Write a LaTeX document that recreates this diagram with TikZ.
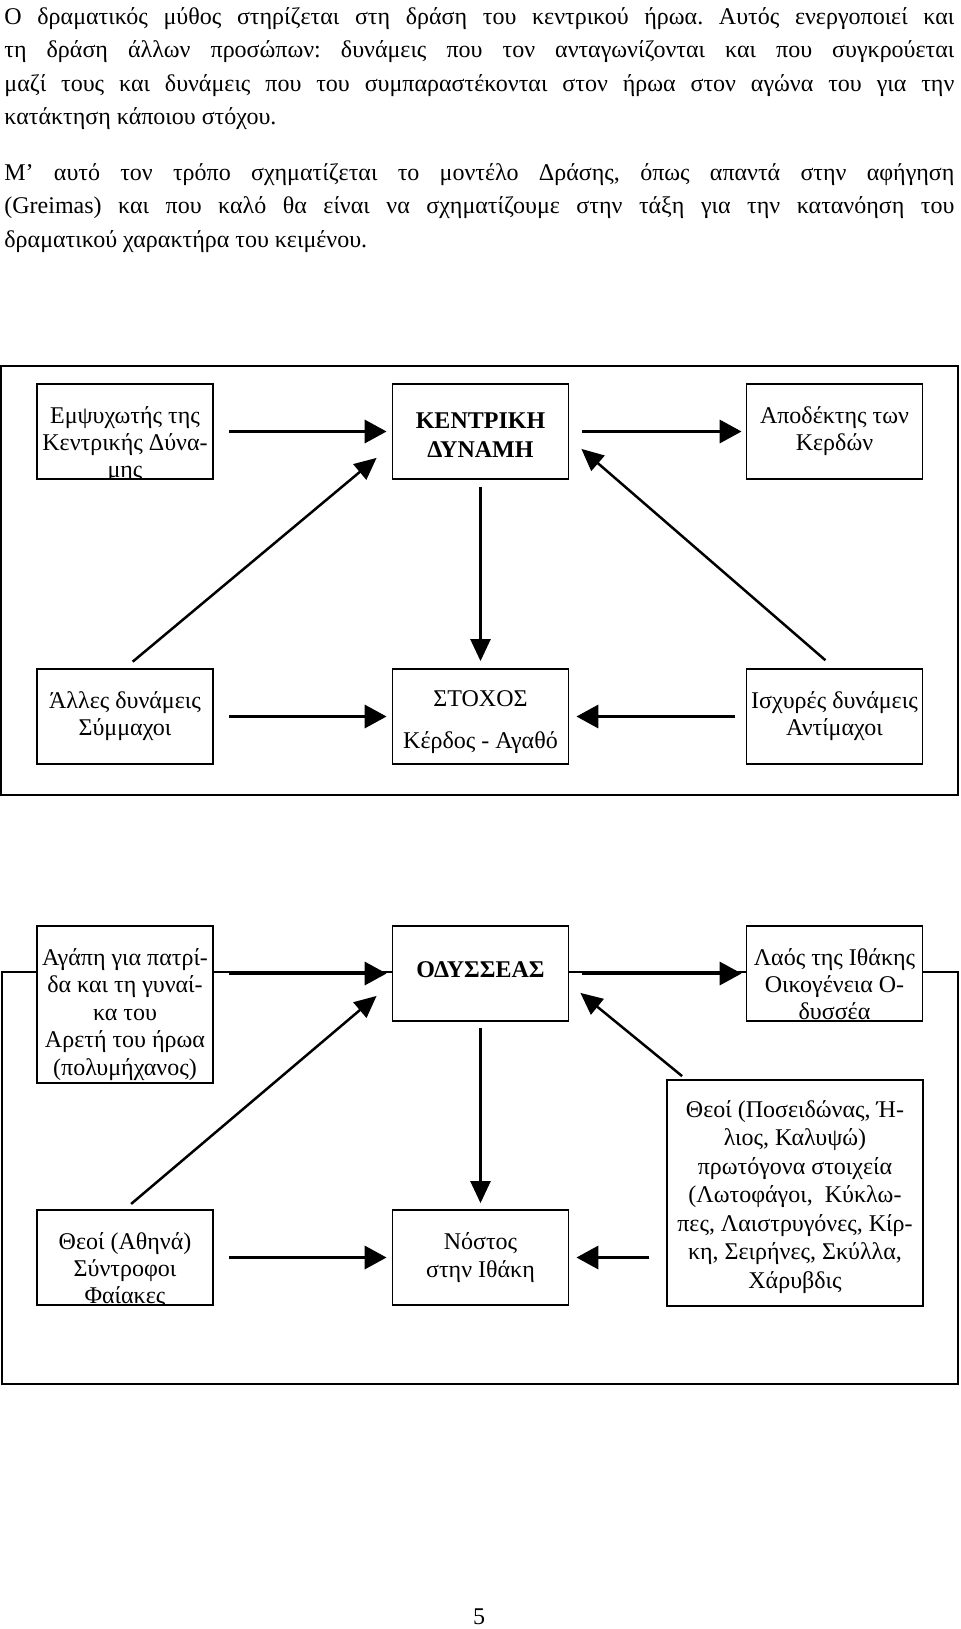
\documentclass[tikz,border=0pt]{standalone}
\usepackage{fontspec}
\setmainfont{Liberation Serif}
\usetikzlibrary{arrows.meta,calc}
\frenchspacing
\begin{document}
\begin{tikzpicture}[x=0.5pt,y=-0.5pt,
  frame/.style={draw,line width=0.8pt},
  box/.style={draw,fill=white,line width=0.9pt,inner sep=0pt,minimum width=88pt,minimum height=47.5pt},
  txt/.style={anchor=base,align=center,inner sep=0pt,font=\fontsize{12pt}{13.5pt}\selectfont},
  btxt/.style={anchor=base,align=center,inner sep=0pt,font=\fontsize{12pt}{14.5pt}\selectfont\bfseries},
  para/.style={anchor=base west,text width=475pt,align=justify,inner sep=0pt,font=\fontsize{12pt}{16.75pt}\selectfont},
  thickarrow/.style={line width=1.75pt,-{Triangle[length=11pt,width=11.5pt]}},
  thinarrow/.style={line width=1.25pt,-{Triangle[length=11pt,width=10pt]}}
]
\useasboundingbox (0,0) rectangle (960,1629);

% paragraphs
\node[para] (p1) at (4,24) {Ο δραματικός μύθος στηρίζεται στη δράση του κεντρικού ήρωα. Αυτός ενεργοποιεί και\linebreak
τη δράση άλλων προσώπων: δυνάμεις που τον ανταγωνίζονται και που συγκρούεται\linebreak
μαζί τους και δυνάμεις που του συμπαραστέκονται στον ήρωα στον αγώνα του για την\linebreak
κατάκτηση κάποιου στόχου.};
\node[para] (p2) at (4,180) {Μ’ αυτό τον τρόπο σχηματίζεται το μοντέλο Δράσης, όπως απαντά στην αφήγηση\linebreak
(Greimas) και που καλό θα είναι να σχηματίζουμε στην τάξη για την κατανόηση του\linebreak
δραματικού χαρακτήρα του κειμένου.};

% ---------- frame 1 ----------
\draw[frame] (1,366) rectangle (958,795);
\node[box] (b1) at (125,431.5) {};
\node[box] (b2) at (480.5,431.5) {};
\node[box] (b3) at (834.5,431.5) {};
\node[box] (b4) at (125,716.5) {};
\node[box] (b5) at (480.5,716.5) {};
\node[box] (b6) at (834.5,716.5) {};

\begin{scope}
\clip (b1.south west) rectangle (b1.north east);
\node[txt] (tb1) at (125,477) {Εμψυχωτής της\\Κεντρικής Δύνα-\\μης};
\end{scope}
\node[btxt] (tb2) at (480.5,457) {ΚΕΝΤΡΙΚΗ\\ΔΥΝΑΜΗ};
\node[txt] (tb3) at (834.5,450) {Αποδέκτης των\\Κερδών};
\node[txt] (tb4) at (125,735) {Άλλες δυνάμεις\\Σύμμαχοι};
\node[txt] (tb5a) at (480.5,706) {ΣΤΟΧΟΣ};
\node[txt] (tb5b) at (480.5,748) {Κέρδος - Αγαθό};
\node[txt] (tb6) at (834.5,735) {Ισχυρές δυνάμεις\\Αντίμαχοι};

\draw[thickarrow,shorten <=7.5pt,shorten >=2.5pt] (b1.east) -- (b2.west);
\draw[thickarrow,shorten <=6.5pt,shorten >=2pt] (b2.east) -- (b3.west);
\draw[thinarrow,shorten <=3.5pt,shorten >=3.5pt] (b2.south) -- (b5.north);
\draw[thinarrow,shorten <=5pt] (b4.north) -- ([shift={(-15,-22)}]b2.south west);
\draw[thinarrow,shorten <=6pt] (b6.north) -- ([shift={(12,-31)}]b2.south east);
\draw[thickarrow,shorten <=7.5pt,shorten >=2.5pt] (b4.east) -- (b5.west);
\draw[thickarrow,shorten <=5.5pt,shorten >=3.5pt] (b6.west) -- (b5.east);

% ---------- frame 2 ----------
\draw[frame] (2,972) rectangle (958,1384);
\node[box,minimum height=78.5pt] (c1) at (125,1004.5) {};
\node[box] (c2) at (480.5,973.5) {};
\node[box] (c3) at (834.5,973.5) {};
\node[box] (c4) at (125,1257.5) {};
\node[box] (c5) at (480.5,1257.5) {};
\node[box,minimum width=128pt,minimum height=113pt] (c6) at (795,1193) {};

\node[txt,font=\fontsize{12pt}{13.75pt}\selectfont] (tc1) at (125,1075) {Αγάπη για πατρί-\\δα και τη γυναί-\\κα του\\Αρετή του ήρωα\\(πολυμήχανος)};
\node[btxt] (tc2) at (480.5,977) {ΟΔΥΣΣΕΑΣ};
\begin{scope}
\clip (c3.south west) rectangle (c3.north east);
\node[txt] (tc3) at (834.5,1019) {Λαός της Ιθάκης\\Οικογένεια Ο-\\δυσσέα};
\end{scope}
\begin{scope}
\clip (c4.south west) rectangle (c4.north east);
\node[txt] (tc4) at (125,1303) {Θεοί (Αθηνά)\\Σύντροφοι\\Φαίακες};
\end{scope}
\node[txt,font=\fontsize{12pt}{14pt}\selectfont] (tc5) at (480.5,1277) {Νόστος\\στην Ιθάκη};
\node[txt,font=\fontsize{12pt}{14.25pt}\selectfont] (tc6) at (795,1288) {Θεοί (Ποσειδώνας, Ή-\\λιος, Καλυψώ)\\πρωτόγονα στοιχεία\\(Λωτοφάγοι,\ \ Κύκλω-\\πες, Λαιστρυγόνες, Κίρ-\\κη, Σειρήνες, Σκύλλα,\\Χάρυβδις};

\draw[thickarrow,shorten <=7.5pt,shorten >=2.5pt] (c1.east |- c2.west) -- (c2.west);
\draw[thickarrow,shorten <=6.5pt,shorten >=2pt] (c2.east) -- (c3.west);
\draw[thinarrow,shorten <=3pt,shorten >=3pt] (c2.south) -- (c5.north);
\draw[thinarrow,shorten <=4pt] (c4.north) -- ([shift={(-15,-26)}]c2.south west);
\draw[thinarrow] ([shift={(16,-3)}]c6.north west) -- ([shift={(11,-29)}]c2.south east);
\draw[thickarrow,shorten <=7.5pt,shorten >=2.5pt] (c4.east) -- (c5.west);
\draw[thickarrow,shorten <=8.5pt,shorten >=3.5pt] (c6.west |- c5.east) -- (c5.east);

\node[txt] (pg) at (479,1624) {5};
\end{tikzpicture}
\end{document}
